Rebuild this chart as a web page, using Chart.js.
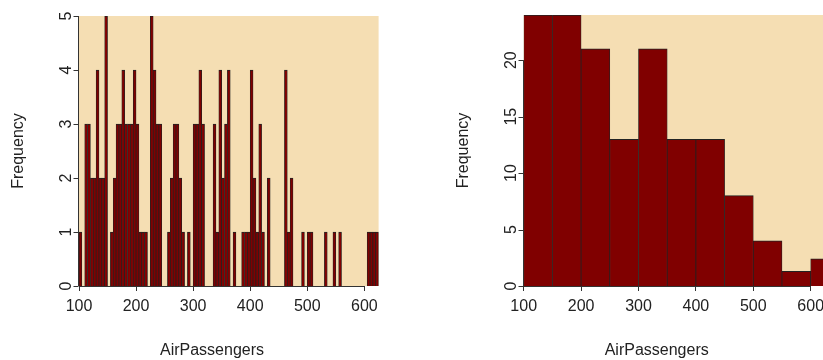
<!DOCTYPE html>
<html>
<head>
<meta charset="utf-8">
<script src="https://cdn.jsdelivr.net/npm/chart.js@4.4.1/dist/chart.umd.min.js"></script>
<style>
  html, body { margin: 0; padding: 0; background: #fff; overflow: hidden; width: 823px; height: 360px; }
  canvas { position: absolute; top: 0; }
  #leftChart { left: 0; }
  #rightChart { left: 411px; }
</style>
</head>
<body>
<canvas id="leftChart" width="411" height="360"></canvas>
<canvas id="rightChart" width="440" height="360"></canvas>
<script>
// left histogram: bins of 5 starting at 100
const leftStart = 100;
const leftWidth = 5;
const leftCounts = [
  1, 0, 3, 3, 2, 2, 4, 2, 2, 5,   // 100-150
  0, 1, 2, 3, 3, 4, 3, 3, 3, 4,   // 150-200
  3, 1, 1, 1, 0, 5, 4, 3, 3, 0,   // 200-250
  0, 1, 2, 3, 3, 2, 1, 0, 1, 0,   // 250-300
  3, 3, 4, 3, 0, 0, 0, 3, 1, 4,   // 300-350
  2, 3, 4, 0, 1, 0, 0, 1, 1, 1,   // 350-400
  4, 2, 1, 3, 1, 0, 2, 0, 0, 0,   // 400-450
  0, 0, 4, 1, 2, 0, 0, 0, 1, 0,   // 450-500
  1, 1, 0, 0, 0, 0, 1, 0, 0, 1,   // 500-550
  0, 1, 0, 0, 0, 0, 0, 0, 0, 0,   // 550-600
  0, 1, 1, 1, 1                   // 600-625
];

// right histogram: bins of 50
const rightBreaks = [100, 150, 200, 250, 300, 350, 400, 450, 500, 550, 600, 650];
const rightCounts = [24, 24, 21, 13, 21, 13, 13, 8, 4, 1.3, 2.4];

const xTicks = [100, 200, 300, 400, 500, 600];
const leftYTicks = [0, 1, 2, 3, 4, 5];
const rightYTicks = [0, 5, 10, 15, 20];

const FONT = '"Liberation Sans", Arial, sans-serif';
const INK = '#222';

// wheat panel + R style axes
const rAxes = {
  id: 'rAxes',
  beforeDraw(chart) {
    const a = chart.chartArea, ctx = chart.ctx;
    ctx.save();
    ctx.fillStyle = '#F5DEB3';
    ctx.fillRect(a.left, a.top, a.right - a.left, a.bottom - a.top);
    ctx.restore();
  },
  afterDraw(chart, args, opts) {
    const a = chart.chartArea, ctx = chart.ctx;
    const xs = chart.scales.x, ys = chart.scales.y;
    const yt = opts.ticks;
    ctx.save();
    ctx.strokeStyle = '#333';
    ctx.lineWidth = 1;
    const by = Math.round(a.bottom) + 0.5;
    ctx.beginPath();
    ctx.moveTo(xs.getPixelForValue(xTicks[0]), by);
    ctx.lineTo(xs.getPixelForValue(xTicks[xTicks.length - 1]), by);
    const lx = Math.round(a.left) - 0.5;
    ctx.moveTo(lx, ys.getPixelForValue(yt[0]));
    ctx.lineTo(lx, ys.getPixelForValue(yt[yt.length - 1]));
    yt.forEach(v => {
      const py = Math.round(ys.getPixelForValue(v)) + 0.5;
      ctx.moveTo(lx, py);
      ctx.lineTo(lx - 5, py);
    });
    ctx.stroke();

    ctx.fillStyle = INK;
    ctx.font = '16px ' + FONT;
    ctx.textAlign = 'center';
    ctx.textBaseline = 'alphabetic';
    yt.forEach(v => {
      ctx.save();
      ctx.translate(lx - 8, ys.getPixelForValue(v));
      ctx.rotate(-Math.PI / 2);
      ctx.fillText(String(v), 0, 0);
      ctx.restore();
    });
    ctx.save();
    ctx.translate(lx - 56, (a.top + a.bottom) / 2);
    ctx.rotate(-Math.PI / 2);
    ctx.fillText('Frequency', 0, 0);
    ctx.restore();
    ctx.fillText('AirPassengers', a.left + 133, 355);
    ctx.restore();
  }
};

function histChart(id, points, xMax, yMax, yTicks, pad) {
  return new Chart(document.getElementById(id), {
    type: 'bar',
    data: {
      datasets: [{
        data: points,
        backgroundColor: '#800000',
        borderColor: '#222',
        borderWidth: { top: 1, left: 0.75, right: 0.75, bottom: 0 },
        borderSkipped: 'start',
        barPercentage: 1,
        categoryPercentage: 1
      }]
    },
    options: {
      responsive: false,
      animation: false,
      devicePixelRatio: 1,
      layout: { padding: pad },
      plugins: {
        legend: { display: false },
        tooltip: { enabled: false },
        rAxes: { ticks: yTicks }
      },
      scales: {
        x: {
          type: 'linear',
          min: 100,
          max: xMax,
          offset: false,
          grid: { offset: false, drawOnChartArea: false, drawTicks: true, tickLength: 5, color: '#333' },
          border: { display: false },
          ticks: {
            stepSize: 100, includeBounds: false, autoSkip: false, maxRotation: 0,
            padding: 6, color: INK, font: { size: 16, family: FONT }
          },
          afterFit(s) { s.height = 74; }
        },
        y: { display: false, min: 0, max: yMax }
      }
    },
    plugins: [rAxes]
  });
}

histChart('leftChart',
  leftCounts.map((c, i) => ({ x: leftStart + leftWidth * i + leftWidth / 2, y: c })),
  625, 5, leftYTicks, { left: 79, right: 32.4, top: 16, bottom: 0 });

histChart('rightChart',
  rightCounts.map((c, i) => ({ x: (rightBreaks[i] + rightBreaks[i + 1]) / 2, y: c })),
  650, 24, rightYTicks, { left: 112.7, right: 11.6, top: 15, bottom: 0 });
</script>
</body>
</html>
